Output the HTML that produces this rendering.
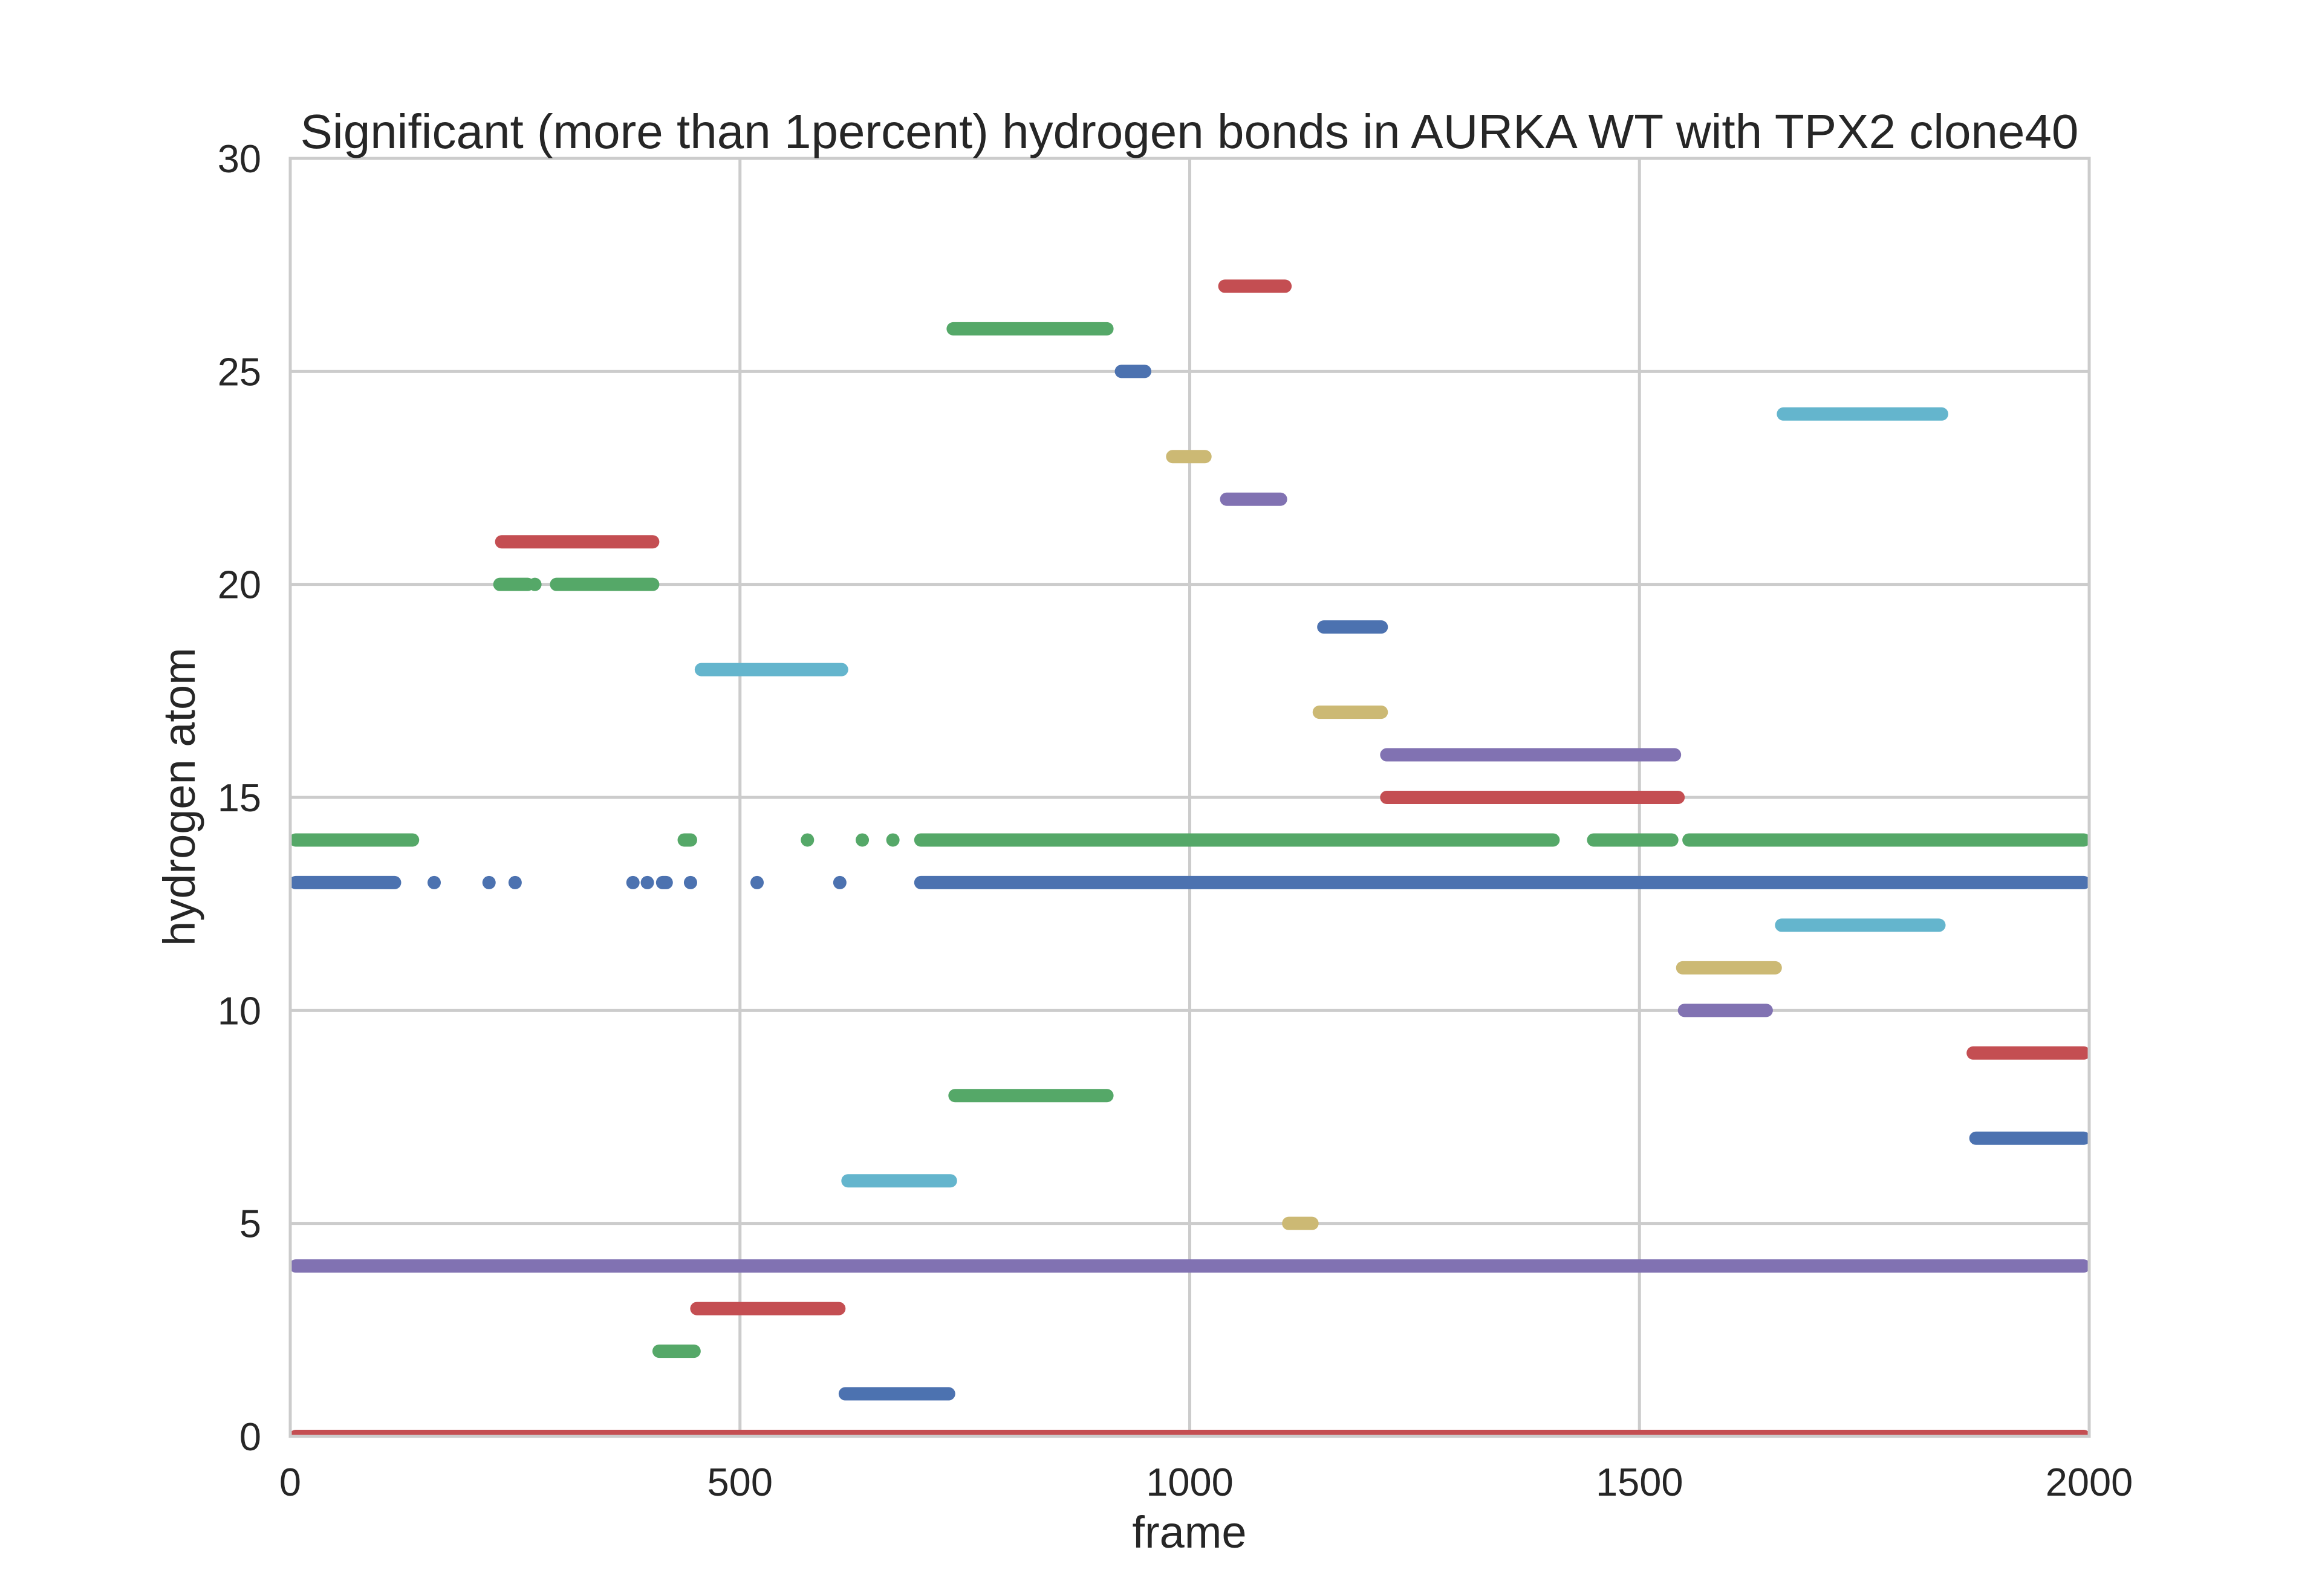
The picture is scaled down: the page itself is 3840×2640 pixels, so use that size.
<!DOCTYPE html>
<html><head><meta charset="utf-8"><style>html,body{margin:0;padding:0;background:#fff}svg{display:block}</style></head>
<body>
<svg id="chart" xmlns="http://www.w3.org/2000/svg" width="3840" height="2640" viewBox="0 0 3840 2640" font-family="Liberation Sans, sans-serif" fill="#262626">
<defs><clipPath id="pc"><rect x="480" y="262" width="2975" height="2114"/></clipPath></defs>
<rect width="3840" height="2640" fill="#fff"/>
<g id="grid"></g>
<g id="marks" clip-path="url(#pc)"></g>
<rect x="480" y="262" width="2975" height="2114" fill="none" stroke="#cccccc" stroke-width="5"/>
<g id="ticks"></g>
<text x="1967" y="245" font-size="80" text-anchor="middle">Significant (more than 1percent) hydrogen bonds in AURKA WT with TPX2 clone40</text>
<text x="1967" y="2560" font-size="74" text-anchor="middle">frame</text>
<text transform="translate(322,1318) rotate(-90)" font-size="74" text-anchor="middle">hydrogen atom</text>
</svg>
<script>
const xTicks = [0, 500, 1000, 1500, 2000];
const yTicks = [0, 5, 10, 15, 20, 25, 30];
const segY =     [0, 1, 2, 3, 4, 5, 6, 7, 8, 9, 10, 11, 12, 13, 13, 13, 14, 14, 14, 14, 14, 14, 15, 16, 17, 18, 19, 20, 20, 21, 22, 23, 24, 25, 26, 27];
const segStart = [0, 611, 404, 446, 0, 1104, 614, 1868, 733, 1865, 1544, 1542, 1652, 0, 695, 414, 0, 438, 695, 1443, 1549, 69, 1213, 1213, 1138, 451, 1143, 227, 290, 229, 1035, 975, 1654, 918, 731, 1033];
const segEnd =   [2000, 738, 455, 616, 2000, 1142, 740, 2000, 914, 2000, 1647, 1657, 1839, 122, 2000, 418, 142, 445, 1410, 1542, 2000, 69, 1549, 1545, 1219, 619, 1219, 270, 409, 409, 1107, 1023, 1842, 956, 914, 1112];
const ptY =     [13, 13, 13, 13, 13, 13, 13, 13, 14, 14, 14, 20];
const ptFrame = [160, 221, 250, 381, 397, 445, 519, 611, 575, 636, 670, 272];
const palette = ['#4C72B0', '#55A868', '#C44E52', '#8172B2', '#CCB974', '#64B5CD'];
const NS = 'http://www.w3.org/2000/svg';
const L = 480, R = 3455, T = 262, B = 2376;
const xs = f => L + (R - L) * f / 2000;
const ys = v => B - (B - T) * v / 30;
const colorFor = y => y === 0 ? '#C44E52' : palette[(y - 1) % 6];
const grid = document.getElementById('grid'), ticks = document.getElementById('ticks'), marks = document.getElementById('marks');
xTicks.forEach(t => {
  const ln = document.createElementNS(NS, 'line');
  
  
  ln.setAttribute('x1', xs(t)); ln.setAttribute('x2', xs(t)); ln.setAttribute('y1', T); ln.setAttribute('y2', B);
  ln.setAttribute('stroke', '#cccccc'); ln.setAttribute('stroke-width', 5);
  grid.appendChild(ln);
  const tx = document.createElementNS(NS, 'text');
  
  
  tx.setAttribute('x', xs(t)); tx.setAttribute('y', 2474); tx.setAttribute('font-size', 65); tx.setAttribute('text-anchor', 'middle');
  tx.textContent = t; ticks.appendChild(tx);
});
yTicks.forEach(t => {
  const ln = document.createElementNS(NS, 'line');
  
  
  ln.setAttribute('x1', L); ln.setAttribute('x2', R); ln.setAttribute('y1', ys(t)); ln.setAttribute('y2', ys(t));
  ln.setAttribute('stroke', '#cccccc'); ln.setAttribute('stroke-width', 5);
  grid.appendChild(ln);
  const tx = document.createElementNS(NS, 'text');
  
  
  tx.setAttribute('x', 432); tx.setAttribute('y', ys(t) + 23); tx.setAttribute('font-size', 65); tx.setAttribute('text-anchor', 'end');
  tx.textContent = t; ticks.appendChild(tx);
});
segY.forEach((y, i) => {
  const ln = document.createElementNS(NS, 'line');
  
  
  let x1 = xs(segStart[i]), x2 = xs(segEnd[i]);
  if (x2 - x1 > 22) { x1 += 9; x2 -= 9; }
  ln.setAttribute('x1', x1); ln.setAttribute('x2', x2);
  ln.setAttribute('y1', ys(y)); ln.setAttribute('y2', ys(y));
  ln.setAttribute('stroke', colorFor(y)); ln.setAttribute('stroke-width', 22); ln.setAttribute('stroke-linecap', 'round');
  marks.appendChild(ln);
});
ptY.forEach((y, i) => {
  const c = document.createElementNS(NS, 'circle');
  
  
  c.setAttribute('cx', xs(ptFrame[i])); c.setAttribute('cy', ys(y)); c.setAttribute('r', 11);
  c.setAttribute('fill', colorFor(y));
  marks.appendChild(c);
});
</script>
</body></html>
